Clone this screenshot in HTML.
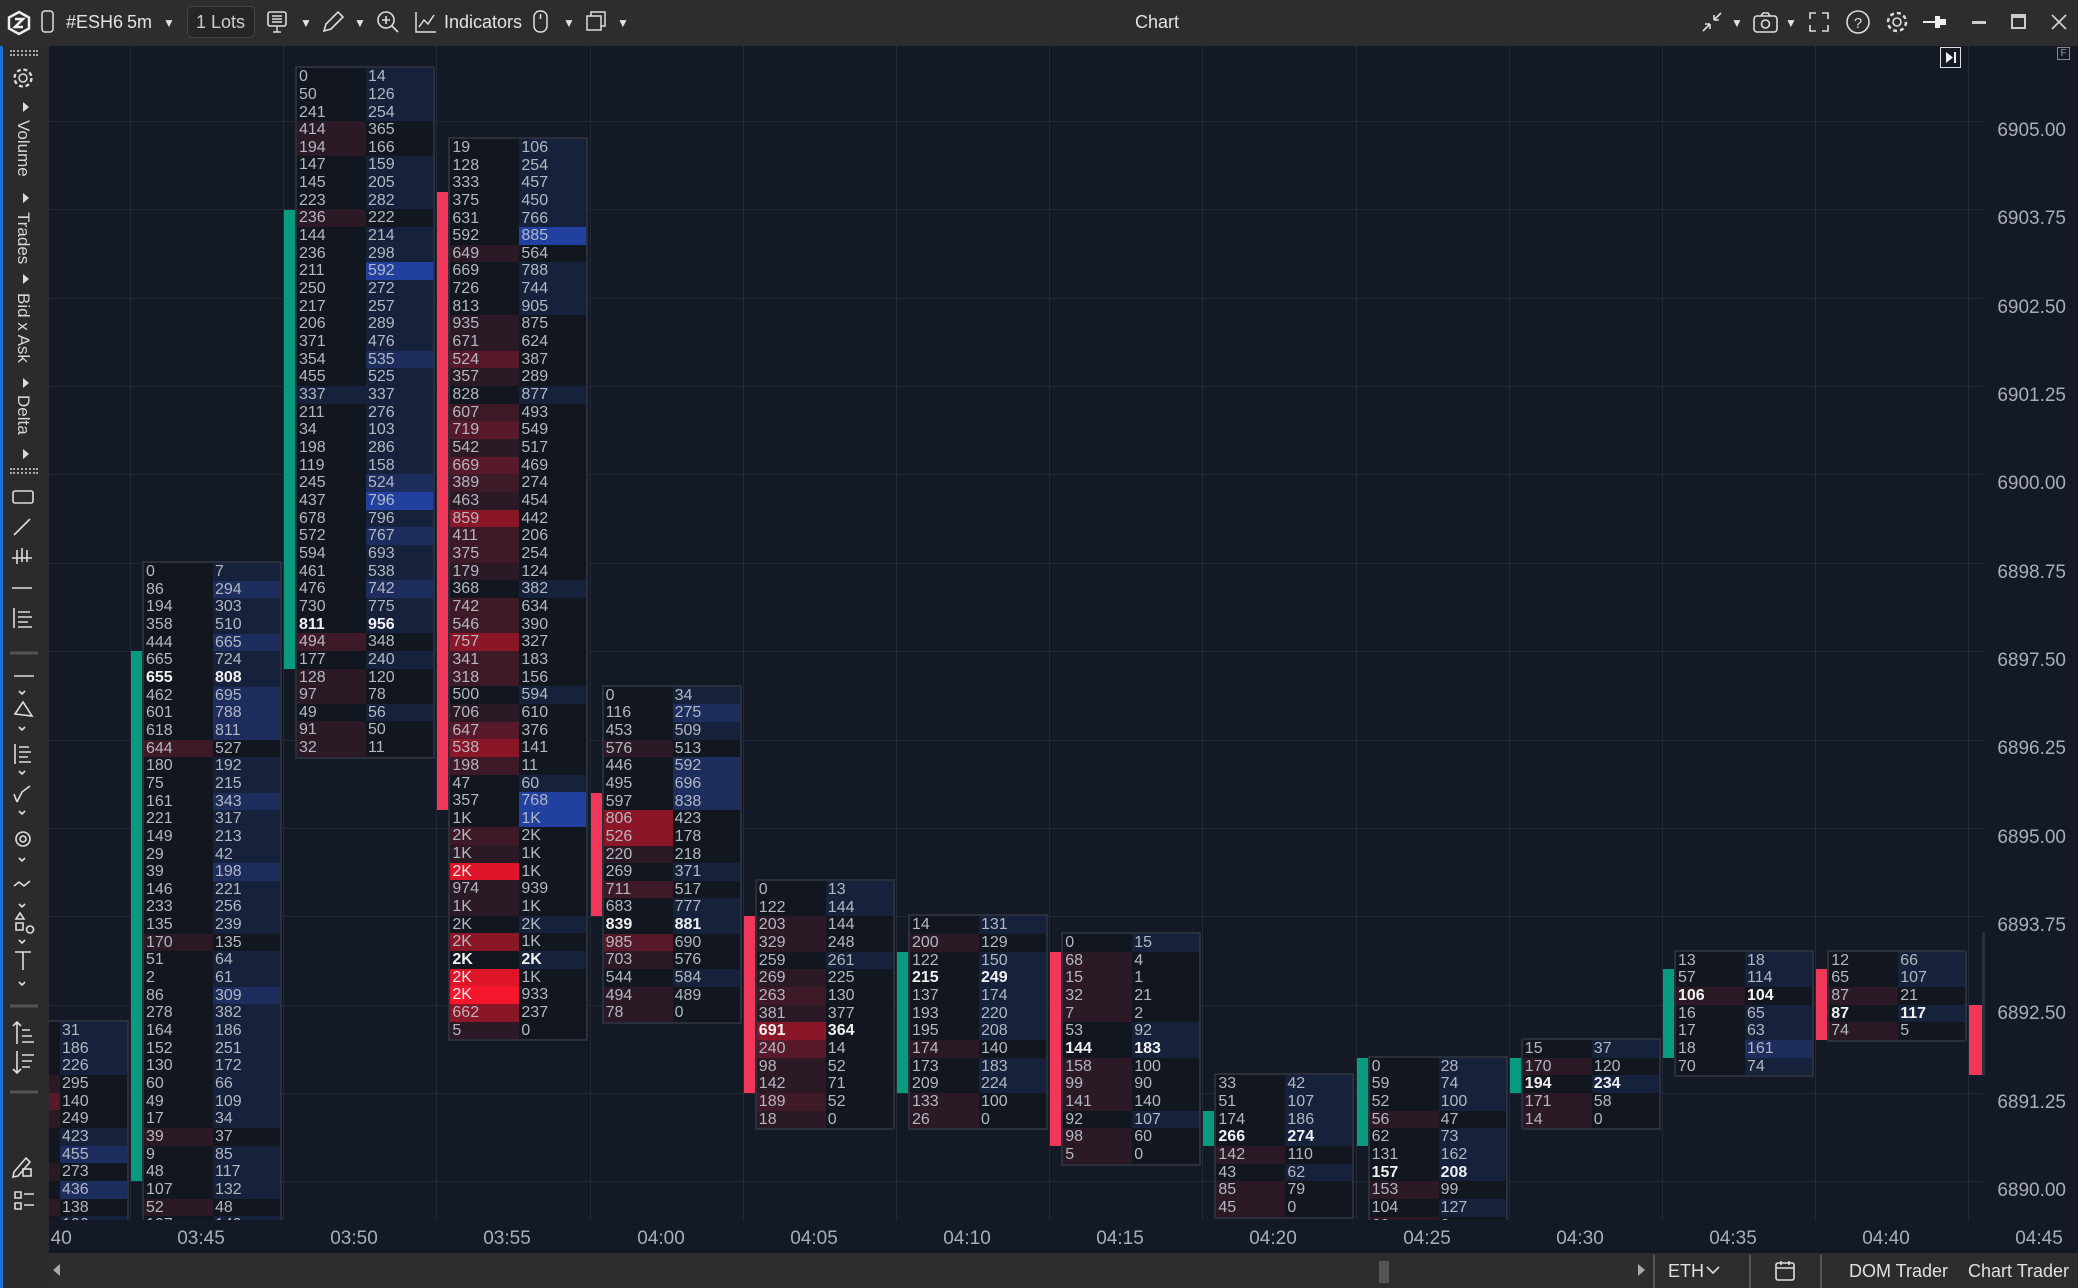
<!DOCTYPE html>
<html><head><meta charset="utf-8">
<style>
*{margin:0;padding:0;box-sizing:border-box}
body{width:2078px;height:1288px;background:#141926;overflow:hidden;position:relative;font-family:"Liberation Sans",sans-serif}
#tb{position:absolute;left:0;top:0;width:2078px;height:46px;background:#2d2d30;color:#e2e2e2;font-size:18px}
#tb span{position:absolute;top:12px}
#sb{position:absolute;left:0;top:46px;width:49px;height:1242px;background:#2b2b2e;border-left:3px solid #1e6fd9}
#chart{position:absolute;left:49px;top:46px;width:1936px;height:1174px;overflow:hidden}
#in{position:absolute;left:-49px;top:-46px;width:2078px;height:1288px}
#tax{position:absolute;left:49px;top:1220px;width:1936px;height:33px;overflow:hidden}
#tin{position:absolute;left:-49px;top:-1220px;width:2078px;height:1288px}
.gv{position:absolute;top:0;width:1px;height:1300px;background:#232836}
.gh{position:absolute;left:0;height:1px;width:2078px;background:#232836}
.c{position:absolute;width:140px;border:2px solid #2a2f3b;background:#12161f;color:#b3b7c0;font-size:16px}
.c p{height:17.67px;display:flex;line-height:17.67px;overflow:hidden}
.c b,.c i{font-style:normal;font-weight:normal;width:69px;padding-left:2px;white-space:nowrap}
.c i{width:67px}
.c p.k{font-weight:bold;color:#f0f0f0}
.c p.k b,.c p.k i{font-weight:bold}
.r1{background:#2b1a25}.r2{background:#3e1a28}.r3{background:#581a2a}.r4{background:#8a1628}.r5{background:#de1428;color:#e8e8e8}.r6{background:#f5162c;color:#eee}
.q1{background:#16213b}.q2{background:#1c2d5e}.q3{background:#2140a0}
.bar{position:absolute;width:13px}
.g{background:#089b80}.rd{background:#f0375a}
.pl{position:absolute;right:12px;color:#a9adb6;font-size:19px;text-align:right}
.tl{position:absolute;top:1228px;width:80px;text-align:center;color:#a9adb6;font-size:19px}
#bot{position:absolute;left:49px;top:1253px;width:2029px;height:35px;background:#2d2d30;color:#e0e0e0;font-size:18px}
.vt{position:absolute;left:10px;color:#d6d6d6;font-size:17px;writing-mode:vertical-rl}
.ar{position:absolute;left:20px;width:0;height:0;border-top:5px solid transparent;border-bottom:5px solid transparent;border-left:6px solid #ddd}
</style></head><body>
<div id="tb">
<svg style="position:absolute;left:6px;top:10px" width="26" height="26"><polygon points="13,2 23,7.5 23,18.5 13,24 3,18.5 3,7.5" fill="none" stroke="#eee" stroke-width="2.5"/><path d="M9 9h8l-8 8h8" stroke="#eee" stroke-width="2.5" fill="none"/></svg>
<svg style="position:absolute;left:41px;top:10px" width="14" height="24"><rect x="1" y="1" width="11" height="21" rx="3" fill="none" stroke="#ddd" stroke-width="1.5"/></svg>
<span style="left:66px">#ESH6</span><span style="left:127px">5m</span><span style="left:163px;font-size:12px;top:16px">▼</span>
<div style="position:absolute;left:187px;top:6px;width:68px;height:32px;border:1px solid #444;border-radius:5px;background:#262629"></div>
<span style="left:196px;color:#ccc">1 Lots</span>
<svg style="position:absolute;left:266px;top:10px" width="24" height="26"><rect x="2" y="2" width="18" height="14" rx="2" fill="none" stroke="#ddd" stroke-width="1.6"/><path d="M6 6h10M6 9h10M6 12h10M11 16v6M7 22h8" stroke="#ddd" stroke-width="1.4"/></svg>
<span style="left:300px;font-size:12px;top:16px">▼</span>
<svg style="position:absolute;left:320px;top:9px" width="24" height="26"><path d="M4 22l2-7 12-12 5 5-12 12z" fill="none" stroke="#ddd" stroke-width="1.6"/></svg>
<span style="left:354px;font-size:12px;top:16px">▼</span>
<svg style="position:absolute;left:375px;top:9px" width="26" height="26"><circle cx="11" cy="11" r="8" fill="none" stroke="#ddd" stroke-width="1.6"/><path d="M7 11h8M11 7v8M17 17l6 6" stroke="#ddd" stroke-width="1.6"/></svg>
<svg style="position:absolute;left:414px;top:10px" width="24" height="24"><path d="M2 2v20h20M5 17l5-7 4 4 6-9" fill="none" stroke="#ddd" stroke-width="1.5"/></svg>
<span style="left:444px">Indicators</span>
<svg style="position:absolute;left:533px;top:10px" width="16" height="24"><rect x="1" y="1" width="13" height="21" rx="6" fill="none" stroke="#ddd" stroke-width="1.5"/><path d="M7.5 4v5" stroke="#ddd" stroke-width="1.5"/></svg>
<span style="left:563px;font-size:12px;top:16px">▼</span>
<svg style="position:absolute;left:585px;top:10px" width="22" height="22"><rect x="2" y="6" width="14" height="14" fill="none" stroke="#ddd" stroke-width="1.5"/><path d="M6 6V2h14v14h-4" fill="none" stroke="#ddd" stroke-width="1.5"/></svg>
<span style="left:617px;font-size:12px;top:16px">▼</span>
<span style="left:1135px">Chart</span>
<svg style="position:absolute;left:1700px;top:10px" width="24" height="24"><path d="M3 21l7-7M10 14h-5M10 14v5M21 3l-7 7M14 10h5M14 10V5" stroke="#ddd" stroke-width="1.6" fill="none"/></svg>
<span style="left:1731px;font-size:12px;top:16px">▼</span>
<svg style="position:absolute;left:1752px;top:10px" width="28" height="24"><rect x="2" y="6" width="23" height="16" rx="3" fill="none" stroke="#ddd" stroke-width="1.6"/><circle cx="13.5" cy="14" r="4" fill="none" stroke="#ddd" stroke-width="1.6"/><path d="M9 6l2-3h5l2 3" fill="none" stroke="#ddd" stroke-width="1.6"/></svg>
<span style="left:1785px;font-size:12px;top:16px">▼</span>
<svg style="position:absolute;left:1807px;top:10px" width="24" height="24"><path d="M3 9V3h6M21 9V3h-6M3 15v6h6M21 15v6h-6" stroke="#ddd" stroke-width="1.6" fill="none"/></svg>
<svg style="position:absolute;left:1845px;top:9px" width="26" height="26"><circle cx="13" cy="13" r="11" fill="none" stroke="#ddd" stroke-width="1.6"/><text x="13" y="19" font-size="15" fill="#ddd" text-anchor="middle" font-family="Liberation Sans">?</text></svg>
<svg style="position:absolute;left:1884px;top:9px" width="26" height="26"><circle cx="13" cy="13" r="4" fill="none" stroke="#ddd" stroke-width="1.6"/><circle cx="13" cy="13" r="9" fill="none" stroke="#ddd" stroke-width="2.5" stroke-dasharray="4 3"/></svg>
<svg style="position:absolute;left:1922px;top:12px" width="26" height="20"><path d="M1 10h14" stroke="#eee" stroke-width="2"/><rect x="13" y="4" width="5" height="12" fill="#eee"/><rect x="18" y="7" width="6" height="6" fill="#eee"/></svg>
<div style="position:absolute;left:1972px;top:21px;width:14px;height:3px;background:#ccc"></div>
<div style="position:absolute;left:2011px;top:14px;width:15px;height:15px;border:2px solid #ccc;border-top-width:4px"></div>
<svg style="position:absolute;left:2050px;top:13px" width="18" height="18"><path d="M2 2l14 14M16 2L2 16" stroke="#ccc" stroke-width="1.8"/></svg>
</div>

<div id="sb">
<div style="position:absolute;left:7px;top:4px;width:28px;height:6px;border-top:2px dotted #aaa;border-bottom:2px dotted #aaa"></div>
<svg style="position:absolute;left:8px;top:20px" width="24" height="24"><circle cx="12" cy="12" r="4" fill="none" stroke="#ddd" stroke-width="1.5"/><circle cx="12" cy="12" r="8.5" fill="none" stroke="#ddd" stroke-width="2.3" stroke-dasharray="4 2.7"/></svg>
<div class="ar" style="top:56px"></div>
<div class="vt" style="top:74px">Volume</div>
<div class="ar" style="top:147px"></div>
<div class="vt" style="top:166px">Trades</div>
<div class="ar" style="top:228px"></div>
<div class="vt" style="top:247px">Bid x Ask</div>
<div class="ar" style="top:332px"></div>
<div class="vt" style="top:349px">Delta</div>
<div class="ar" style="top:403px"></div>
<div style="position:absolute;left:7px;top:422px;width:28px;height:6px;border-top:2px dotted #aaa;border-bottom:2px dotted #aaa"></div>
<svg style="position:absolute;left:5px;top:440px" width="36" height="620" fill="none" stroke="#ddd" stroke-width="1.6">
<rect x="5" y="5" width="20" height="12" rx="2"/>
<path d="M6 49l16-16"/>
<path d="M4 72h20M9 64v14M14 62v14M19 64v12"/>
<path d="M4 102h20"/>
<path d="M6 122v20M10 126h12M10 131h14M10 136h10M10 141h14"/>
<path d="M2 167h28" stroke="#555" stroke-width="3"/>
<path d="M6 190h20M11 205l3 3 3-3"/>
<path d="M7 228l8-12 9 14z"/><path d="M11 241l3 3 3-3"/>
<path d="M7 258v20M11 261h10M11 266h12M11 271h9M11 276h12M11 285l3 3 3-3"/>
<path d="M9 316l5-10 8-6M9 316l-3-8M11 325l3 3 3-3"/>
<circle cx="15" cy="353" r="7"/><circle cx="15" cy="353" r="3"/><path d="M11 372l3 3 3-3"/>
<path d="M6 400l5-4 5 4 6-5M11 418l3 3 3-3"/>
<path d="M8 433l4-6 4 6zM8 437h7v7H8zM22 440a3.5 3.5 0 1 0 0.1 0M11 454l3 3 3-3"/>
<path d="M7 466h16M15 466v18M11 496l3 3 3-3"/>
<path d="M2 520h28" stroke="#555" stroke-width="3"/>
<path d="M9 536v22M5 540l4-4 4 4M14 544h8M14 550h10M14 556h12"/>
<path d="M9 565v22M5 583l4 4 4-4M14 569h12M14 575h10M14 581h8"/>
<path d="M2 606h28" stroke="#555" stroke-width="3"/>
</svg>
<svg style="position:absolute;left:5px;top:1104px" width="36" height="80" fill="none" stroke="#ddd" stroke-width="1.6"><path d="M6 22l12-14 4 4-12 14-5 1z"/><rect x="15" y="19" width="8" height="7"/><path d="M7 42h6v6H7zM7 53h6v6H7zM16 44h10M16 55h10"/></svg>
</div>

<div id="chart"><div id="in">
<div class="gv" style="left:-23px"></div><div class="gv" style="left:130px"></div><div class="gv" style="left:283px"></div><div class="gv" style="left:436px"></div><div class="gv" style="left:590px"></div><div class="gv" style="left:743px"></div><div class="gv" style="left:896px"></div><div class="gv" style="left:1049px"></div><div class="gv" style="left:1202px"></div><div class="gv" style="left:1356px"></div><div class="gv" style="left:1509px"></div><div class="gv" style="left:1662px"></div><div class="gv" style="left:1815px"></div><div class="gv" style="left:1968px"></div>
<div class="gh" style="top:121px"></div><div class="gh" style="top:209px"></div><div class="gh" style="top:298px"></div><div class="gh" style="top:386px"></div><div class="gh" style="top:474px"></div><div class="gh" style="top:563px"></div><div class="gh" style="top:651px"></div><div class="gh" style="top:740px"></div><div class="gh" style="top:828px"></div><div class="gh" style="top:916px"></div><div class="gh" style="top:1005px"></div><div class="gh" style="top:1093px"></div><div class="gh" style="top:1181px"></div>

<div class="c" style="left:-11px;top:1020px">
<p><b></b><i class="q1">31</i></p><p><b></b><i class="q1">186</i></p><p><b></b><i class="q1">226</i></p><p><b class="r1"></b><i>295</i></p><p><b class="r3"></b><i>140</i></p><p><b class="r1"></b><i>249</i></p><p><b></b><i class="q1">423</i></p><p><b></b><i class="q2">455</i></p><p><b class="r1"></b><i>273</i></p><p><b></b><i class="q2">436</i></p><p><b class="r1"></b><i>138</i></p><p><b></b><i class="q1">106</i></p>
</div>
<div class="bar g" style="left:131px;top:651px;height:530px"></div>
<div class="c" style="left:142px;top:561px">
<p><b>0</b><i class="q1">7</i></p><p><b>86</b><i class="q2">294</i></p><p><b>194</b><i class="q1">303</i></p><p><b>358</b><i class="q1">510</i></p><p><b>444</b><i class="q2">665</i></p><p><b>665</b><i class="q1">724</i></p><p class="k"><b>655</b><i class="q1">808</i></p><p><b>462</b><i class="q2">695</i></p><p><b>601</b><i class="q2">788</i></p><p><b>618</b><i class="q2">811</i></p><p><b class="r2">644</b><i>527</i></p><p><b>180</b><i class="q1">192</i></p><p><b>75</b><i class="q1">215</i></p><p><b>161</b><i class="q2">343</i></p><p><b>221</b><i class="q1">317</i></p><p><b>149</b><i class="q1">213</i></p><p><b>29</b><i class="q1">42</i></p><p><b>39</b><i class="q2">198</i></p><p><b>146</b><i class="q1">221</i></p><p><b>233</b><i class="q1">256</i></p><p><b>135</b><i class="q1">239</i></p><p><b class="r1">170</b><i>135</i></p><p><b>51</b><i class="q1">64</i></p><p><b>2</b><i class="q1">61</i></p><p><b>86</b><i class="q2">309</i></p><p><b>278</b><i class="q1">382</i></p><p><b>164</b><i class="q1">186</i></p><p><b>152</b><i class="q1">251</i></p><p><b>130</b><i class="q1">172</i></p><p><b>60</b><i class="q1">66</i></p><p><b>49</b><i class="q1">109</i></p><p><b>17</b><i class="q1">34</i></p><p><b class="r1">39</b><i>37</i></p><p><b>9</b><i class="q1">85</i></p><p><b>48</b><i class="q1">117</i></p><p><b>107</b><i class="q1">132</i></p><p><b class="r1">52</b><i>48</i></p><p><b>107</b><i class="q1">140</i></p>
</div>
<div class="bar g" style="left:284px;top:209.6px;height:459.4px"></div>
<div class="c" style="left:295px;top:66.2px">
<p><b>0</b><i class="q1">14</i></p><p><b>50</b><i class="q1">126</i></p><p><b>241</b><i class="q1">254</i></p><p><b class="r1">414</b><i>365</i></p><p><b class="r1">194</b><i>166</i></p><p><b>147</b><i class="q1">159</i></p><p><b>145</b><i class="q1">205</i></p><p><b>223</b><i class="q1">282</i></p><p><b class="r1">236</b><i>222</i></p><p><b>144</b><i class="q1">214</i></p><p><b>236</b><i class="q1">298</i></p><p><b>211</b><i class="q3">592</i></p><p><b>250</b><i class="q1">272</i></p><p><b>217</b><i class="q1">257</i></p><p><b>206</b><i class="q1">289</i></p><p><b>371</b><i class="q1">476</i></p><p><b>354</b><i class="q2">535</i></p><p><b>455</b><i class="q1">525</i></p><p><b class="q1">337</b><i class="q1">337</i></p><p><b>211</b><i class="q1">276</i></p><p><b>34</b><i class="q1">103</i></p><p><b>198</b><i class="q1">286</i></p><p><b>119</b><i class="q1">158</i></p><p><b>245</b><i class="q2">524</i></p><p><b>437</b><i class="q3">796</i></p><p><b>678</b><i class="q1">796</i></p><p><b>572</b><i class="q2">767</i></p><p><b>594</b><i class="q1">693</i></p><p><b>461</b><i class="q1">538</i></p><p><b>476</b><i class="q2">742</i></p><p><b>730</b><i class="q1">775</i></p><p class="k"><b>811</b><i class="q1">956</i></p><p><b class="r2">494</b><i>348</i></p><p><b>177</b><i class="q1">240</i></p><p><b class="r1">128</b><i>120</i></p><p><b class="r1">97</b><i>78</i></p><p><b>49</b><i class="q1">56</i></p><p><b class="r1">91</b><i>50</i></p><p><b class="r1">32</b><i>11</i></p>
</div>
<div class="bar rd" style="left:437.4px;top:191.9px;height:618.5px"></div>
<div class="c" style="left:448.4px;top:136.9px">
<p><b>19</b><i class="q1">106</i></p><p><b>128</b><i class="q1">254</i></p><p><b>333</b><i class="q1">457</i></p><p><b>375</b><i class="q1">450</i></p><p><b>631</b><i class="q1">766</i></p><p><b>592</b><i class="q3">885</i></p><p><b class="r1">649</b><i>564</i></p><p><b>669</b><i class="q1">788</i></p><p><b>726</b><i class="q1">744</i></p><p><b>813</b><i class="q1">905</i></p><p><b class="r1">935</b><i>875</i></p><p><b class="r1">671</b><i>624</i></p><p><b class="r3">524</b><i>387</i></p><p><b class="r1">357</b><i>289</i></p><p><b>828</b><i class="q1">877</i></p><p><b class="r2">607</b><i>493</i></p><p><b class="r3">719</b><i>549</i></p><p><b class="r1">542</b><i>517</i></p><p><b class="r3">669</b><i>469</i></p><p><b class="r2">389</b><i>274</i></p><p><b class="r1">463</b><i>454</i></p><p><b class="r4">859</b><i>442</i></p><p><b class="r2">411</b><i>206</i></p><p><b class="r2">375</b><i>254</i></p><p><b class="r1">179</b><i>124</i></p><p><b>368</b><i class="q1">382</i></p><p><b class="r2">742</b><i>634</i></p><p><b class="r2">546</b><i>390</i></p><p><b class="r4">757</b><i>327</i></p><p><b class="r2">341</b><i>183</i></p><p><b class="r2">318</b><i>156</i></p><p><b>500</b><i class="q1">594</i></p><p><b class="r1">706</b><i>610</i></p><p><b class="r3">647</b><i>376</i></p><p><b class="r4">538</b><i>141</i></p><p><b class="r2">198</b><i>11</i></p><p><b>47</b><i class="q1">60</i></p><p><b>357</b><i class="q3">768</i></p><p><b>1K</b><i class="q3">1K</i></p><p><b class="r2">2K</b><i>2K</i></p><p><b class="r1">1K</b><i>1K</i></p><p><b class="r5">2K</b><i>1K</i></p><p><b class="r1">974</b><i>939</i></p><p><b class="r1">1K</b><i>1K</i></p><p><b>2K</b><i class="q1">2K</i></p><p><b class="r4">2K</b><i>1K</i></p><p class="k"><b>2K</b><i class="q1">2K</i></p><p><b class="r5">2K</b><i>1K</i></p><p><b class="r6">2K</b><i>933</i></p><p><b class="r4">662</b><i>237</i></p><p><b class="r1">5</b><i>0</i></p>
</div>
<div class="bar rd" style="left:590.6px;top:792.6px;height:123.7px"></div>
<div class="c" style="left:601.6px;top:684.6px">
<p><b>0</b><i class="q1">34</i></p><p><b>116</b><i class="q2">275</i></p><p><b>453</b><i class="q1">509</i></p><p><b class="r1">576</b><i>513</i></p><p><b>446</b><i class="q2">592</i></p><p><b>495</b><i class="q2">696</i></p><p><b>597</b><i class="q2">838</i></p><p><b class="r4">806</b><i>423</i></p><p><b class="r4">526</b><i>178</i></p><p><b class="r1">220</b><i>218</i></p><p><b>269</b><i class="q1">371</i></p><p><b class="r2">711</b><i>517</i></p><p><b>683</b><i class="q1">777</i></p><p class="k"><b>839</b><i class="q1">881</i></p><p><b class="r3">985</b><i>690</i></p><p><b class="r1">703</b><i>576</i></p><p><b>544</b><i class="q1">584</i></p><p><b class="r1">494</b><i>489</i></p><p><b class="r1">78</b><i>0</i></p>
</div>
<div class="bar rd" style="left:743.8px;top:916.3px;height:176.7px"></div>
<div class="c" style="left:754.8px;top:879px">
<p><b>0</b><i class="q1">13</i></p><p><b>122</b><i class="q1">144</i></p><p><b class="r1">203</b><i>144</i></p><p><b class="r1">329</b><i>248</i></p><p><b>259</b><i class="q1">261</i></p><p><b class="r1">269</b><i>225</i></p><p><b class="r2">263</b><i>130</i></p><p><b class="r1">381</b><i>377</i></p><p class="k"><b class="r4">691</b><i>364</i></p><p><b class="r3">240</b><i>14</i></p><p><b class="r1">98</b><i>52</i></p><p><b class="r1">142</b><i>71</i></p><p><b class="r2">189</b><i>52</i></p><p><b class="r1">18</b><i>0</i></p>
</div>
<div class="bar g" style="left:897px;top:951.7px;height:141.4px"></div>
<div class="c" style="left:908px;top:914.4px">
<p><b>14</b><i class="q1">131</i></p><p><b class="r1">200</b><i>129</i></p><p><b>122</b><i class="q1">150</i></p><p class="k"><b>215</b><i class="q1">249</i></p><p><b>137</b><i class="q1">174</i></p><p><b>193</b><i class="q1">220</i></p><p><b>195</b><i class="q1">208</i></p><p><b class="r1">174</b><i>140</i></p><p><b>173</b><i class="q1">183</i></p><p><b>209</b><i class="q1">224</i></p><p><b class="r1">133</b><i>100</i></p><p><b class="r1">26</b><i>0</i></p>
</div>
<div class="bar rd" style="left:1050.2px;top:951.7px;height:194.3px"></div>
<div class="c" style="left:1061.2px;top:932px">
<p><b>0</b><i class="q1">15</i></p><p><b class="r1">68</b><i>4</i></p><p><b class="r1">15</b><i>1</i></p><p><b class="r1">32</b><i>21</i></p><p><b class="r1">7</b><i>2</i></p><p><b>53</b><i class="q1">92</i></p><p class="k"><b>144</b><i class="q1">183</i></p><p><b class="r1">158</b><i>100</i></p><p><b class="r1">99</b><i>90</i></p><p><b class="r1">141</b><i>140</i></p><p><b>92</b><i class="q1">107</i></p><p><b class="r1">98</b><i>60</i></p><p><b class="r1">5</b><i>0</i></p>
</div>
<div class="bar g" style="left:1203.4px;top:1110.7px;height:35.4px"></div>
<div class="c" style="left:1214.4px;top:1073.4px">
<p><b>33</b><i class="q1">42</i></p><p><b>51</b><i class="q1">107</i></p><p><b>174</b><i class="q1">186</i></p><p class="k"><b>266</b><i class="q1">274</i></p><p><b class="r1">142</b><i>110</i></p><p><b>43</b><i class="q1">62</i></p><p><b class="r1">85</b><i>79</i></p><p><b class="r1">45</b><i>0</i></p>
</div>
<div class="bar g" style="left:1356.6px;top:1057.7px;height:88.4px"></div>
<div class="c" style="left:1367.6px;top:1055.7px">
<p><b>0</b><i class="q1">28</i></p><p><b>59</b><i class="q1">74</i></p><p><b>52</b><i class="q1">100</i></p><p><b class="r1">56</b><i>47</i></p><p><b>62</b><i class="q1">73</i></p><p><b>131</b><i class="q1">162</i></p><p class="k"><b>157</b><i class="q1">208</i></p><p><b class="r1">153</b><i>99</i></p><p><b>104</b><i class="q1">127</i></p><p><b class="r1">60</b><i>0</i></p>
</div>
<div class="bar g" style="left:1509.8px;top:1057.7px;height:35.4px"></div>
<div class="c" style="left:1520.8px;top:1038px">
<p><b>15</b><i class="q1">37</i></p><p><b class="r1">170</b><i>120</i></p><p class="k"><b>194</b><i class="q1">234</i></p><p><b class="r1">171</b><i>58</i></p><p><b class="r1">14</b><i>0</i></p>
</div>
<div class="bar g" style="left:1663px;top:969.4px;height:88.3px"></div>
<div class="c" style="left:1674px;top:949.7px">
<p><b>13</b><i class="q1">18</i></p><p><b>57</b><i class="q1">114</i></p><p class="k"><b class="r1">106</b><i>104</i></p><p><b>16</b><i class="q1">65</i></p><p><b>17</b><i class="q1">63</i></p><p><b>18</b><i class="q2">161</i></p><p><b>70</b><i class="q1">74</i></p>
</div>
<div class="bar rd" style="left:1816.2px;top:969.4px;height:70.6px"></div>
<div class="c" style="left:1827.2px;top:949.7px">
<p><b>12</b><i class="q1">66</i></p><p><b>65</b><i class="q1">107</i></p><p><b class="r1">87</b><i>21</i></p><p class="k"><b>87</b><i class="q1">117</i></p><p><b class="r1">74</b><i>5</i></p>
</div>
<div class="bar rd" style="left:1969.4px;top:1004.7px;height:70.7px"></div>
<div style="position:absolute;left:1982px;top:932px;width:3px;height:144px;background:#2a2f3b"></div>
</div></div>

<div id="tax"><div id="tin">
<div class="tl" style="left:8px">03:40</div>
<div class="tl" style="left:161px">03:45</div><div class="tl" style="left:314px">03:50</div><div class="tl" style="left:467px">03:55</div><div class="tl" style="left:621px">04:00</div><div class="tl" style="left:774px">04:05</div><div class="tl" style="left:927px">04:10</div><div class="tl" style="left:1080px">04:15</div><div class="tl" style="left:1233px">04:20</div><div class="tl" style="left:1387px">04:25</div><div class="tl" style="left:1540px">04:30</div><div class="tl" style="left:1693px">04:35</div><div class="tl" style="left:1846px">04:40</div>
</div></div>
<div class="tl" style="left:1999px">04:45</div>

<div class="pl" style="top:120px">6905.00</div>
<div class="pl" style="top:208px">6903.75</div>
<div class="pl" style="top:297px">6902.50</div>
<div class="pl" style="top:385px">6901.25</div>
<div class="pl" style="top:473px">6900.00</div>
<div class="pl" style="top:562px">6898.75</div>
<div class="pl" style="top:650px">6897.50</div>
<div class="pl" style="top:738px">6896.25</div>
<div class="pl" style="top:827px">6895.00</div>
<div class="pl" style="top:915px">6893.75</div>
<div class="pl" style="top:1003px">6892.50</div>
<div class="pl" style="top:1092px">6891.25</div>
<div class="pl" style="top:1180px">6890.00</div>

<div style="position:absolute;left:1940px;top:47px;width:21px;height:21px;border:1px solid #ddd"><svg width="19" height="19"><path d="M5 4l7 5.5-7 5.5z" fill="#eee"/><path d="M14 4v11" stroke="#eee" stroke-width="2"/></svg></div>
<div style="position:absolute;left:2057px;top:47px;width:13px;height:13px;border:1px solid #888;font-size:10px;color:#999;line-height:11px;text-align:center">F</div>

<div id="bot">
<div style="position:absolute;left:4px;top:11px;width:0;height:0;border-top:6px solid transparent;border-bottom:6px solid transparent;border-right:7px solid #aaa"></div>
<div style="position:absolute;left:1330px;top:8px;width:10px;height:22px;background:#555"></div>
<div style="position:absolute;left:1589px;top:11px;width:0;height:0;border-top:6px solid transparent;border-bottom:6px solid transparent;border-left:7px solid #aaa"></div>
<div style="position:absolute;left:1604px;top:2px;width:2px;height:33px;background:#555"></div>
<span style="position:absolute;left:1619px;top:8px">ETH</span>
<svg style="position:absolute;left:1656px;top:11px" width="16" height="12"><path d="M2 3l6 6 6-6" stroke="#ddd" stroke-width="1.6" fill="none"/></svg>
<div style="position:absolute;left:1700px;top:2px;width:2px;height:33px;background:#555"></div>
<svg style="position:absolute;left:1725px;top:6px" width="24" height="24"><rect x="2" y="4" width="18" height="17" rx="2" fill="none" stroke="#ddd" stroke-width="1.6"/><path d="M2 9h18M7 2v4M15 2v4" stroke="#ddd" stroke-width="1.6"/></svg>
<div style="position:absolute;left:1771px;top:2px;width:2px;height:33px;background:#555"></div>
<span style="position:absolute;left:1800px;top:8px">DOM Trader</span>
<span style="position:absolute;left:1919px;top:8px">Chart Trader</span>
</div>
</body></html>
